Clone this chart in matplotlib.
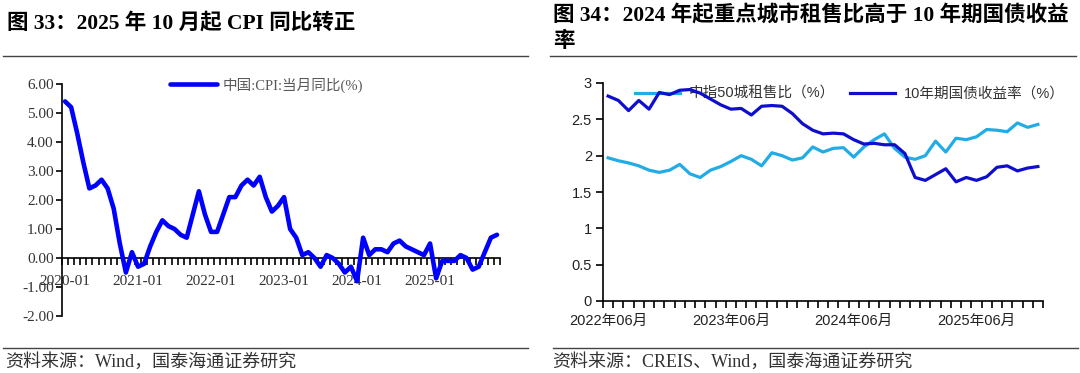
import numpy as np
import matplotlib
matplotlib.use("Agg")
import matplotlib.pyplot as plt
from matplotlib.lines import Line2D

# ---- data: left panel, China CPI yoy (%), 2020-01 .. 2025-12
cpi_years = ["2020-01", "2021-01", "2022-01", "2023-01", "2024-01", "2025-01"]
cpi = [5.4, 5.2, 4.3, 3.3, 2.4, 2.5, 2.7, 2.4, 1.7, 0.5, -0.5, 0.2,
       -0.3, -0.2, 0.4, 0.9, 1.3, 1.1, 1.0, 0.8, 0.7, 1.5, 2.3, 1.5,
       0.9, 0.9, 1.5, 2.1, 2.1, 2.5, 2.7, 2.5, 2.8, 2.1, 1.6, 1.8,
       2.1, 1.0, 0.7, 0.1, 0.2, 0.0, -0.3, 0.1, 0.0, -0.2, -0.5, -0.3,
       -0.8, 0.7, 0.1, 0.3, 0.3, 0.2, 0.5, 0.6, 0.4, 0.3, 0.2, 0.1,
       0.5, -0.7, -0.1, -0.1, -0.1, 0.1, 0.0, -0.4, -0.3, 0.2, 0.7, 0.8]

# ---- data: right panel, 2022-06 .. 2025-12
rent_labels = ["2022年06月", "2023年06月", "2024年06月", "2025年06月"]
rent_ratio = [1.97, 1.93, 1.90, 1.86, 1.80, 1.77, 1.80, 1.88, 1.75, 1.70,
              1.80, 1.85, 1.92, 2.00, 1.95, 1.86, 2.04, 2.00, 1.94, 1.97,
              2.12, 2.05, 2.10, 2.11, 1.98, 2.12, 2.22, 2.30, 2.10, 1.98,
              1.95, 2.00, 2.20, 2.05, 2.24, 2.22, 2.26, 2.36, 2.35, 2.33,
              2.45, 2.39, 2.43]
bond_10y = [2.82, 2.76, 2.62, 2.76, 2.64, 2.87, 2.84, 2.90, 2.91, 2.86,
            2.78, 2.70, 2.64, 2.65, 2.56, 2.68, 2.69, 2.68, 2.58, 2.44,
            2.35, 2.30, 2.31, 2.30, 2.22, 2.16, 2.17, 2.15, 2.15, 2.03,
            1.70, 1.66, 1.74, 1.82, 1.64, 1.70, 1.66, 1.71, 1.84, 1.86,
            1.79, 1.83, 1.85]

serif = ["Liberation Serif", "Noto Sans CJK SC"]
sans = ["Liberation Sans", "Noto Sans CJK SC"]

W, H = 1080, 373
fig = plt.figure(figsize=(W / 100, H / 100), dpi=100)
fig.patch.set_facecolor("white")


def fx(px):
    return px / W


def fy(py):
    return 1 - py / H


# ---------------- left chart ----------------
ax1 = fig.add_axes([fx(62), fy(316), fx(500 - 62), (316 - 84) / H])
x1 = np.arange(len(cpi))
ax1.plot(x1, cpi, color="#0000FF", lw=3.3, solid_joinstyle="round",
         solid_capstyle="round", label="中国:CPI:当月同比(%)", zorder=3)
ax1.set_xlim(-0.5, len(cpi) - 0.5)
ax1.set_ylim(-2, 6)
ax1.spines["top"].set_visible(False)
ax1.spines["right"].set_visible(False)
ax1.spines["bottom"].set_position(("data", 0))
for s in ["left", "bottom"]:
    ax1.spines[s].set_linewidth(1.2)
    ax1.spines[s].set_color("black")
ax1.set_yticks(np.arange(-2, 7, 1))
ax1.set_yticklabels([f"{v:.2f}" for v in np.arange(-2, 7, 1)])
ax1.set_xticks(np.arange(0, len(cpi), 12))
ax1.set_xticklabels(cpi_years)
ax1.set_xticks(np.arange(-0.5, len(cpi), 1), minor=True)
ax1.tick_params(axis="x", which="major", length=0, pad=12)
ax1.tick_params(axis="x", which="minor", length=5, width=1.2, direction="out")
ax1.tick_params(axis="y", length=4, width=1.2, direction="out", pad=2)
for lab in ax1.get_xticklabels() + ax1.get_yticklabels():
    lab.set_family(serif)
    lab.set_fontsize(11)
    lab.set_color("#333333")
leg1 = ax1.legend(loc="center left", bbox_to_anchor=(fx(170), fy(85)),
                  bbox_transform=fig.transFigure, frameon=False,
                  handlelength=3.2, handletextpad=0.4, borderpad=0,
                  borderaxespad=0, prop={"family": serif, "size": 10.5})
for t in leg1.get_texts():
    t.set_color("#595959")

# ---------------- right chart ----------------
ax2 = fig.add_axes([fx(603), fy(301), fx(1043 - 603), (301 - 83) / H])
x2 = np.arange(len(rent_ratio))
ax2.plot(x2, rent_ratio, color="#22ACE6", lw=2.3, solid_joinstyle="round",
         label="中指50城租售比（%）", zorder=3)
ax2.plot(x2, bond_10y, color="#0E0ECC", lw=2.3, solid_joinstyle="round",
         label="10年期国债收益率（%）", zorder=3)
ax2.set_xlim(-0.5, len(rent_ratio) - 0.5)
ax2.set_ylim(0, 3)
ax2.spines["top"].set_visible(False)
ax2.spines["right"].set_visible(False)
for s in ["left", "bottom"]:
    ax2.spines[s].set_linewidth(1.2)
    ax2.spines[s].set_color("black")
yt = np.arange(0, 3.01, 0.5)
ax2.set_yticks(yt)
ax2.set_yticklabels([f"{v:g}" for v in yt])
ax2.set_xticks(np.arange(0, len(rent_ratio), 12))
ax2.set_xticklabels(rent_labels)
ax2.set_xticks(np.arange(-0.5, len(rent_ratio), 1), minor=True)
ax2.tick_params(axis="x", which="major", length=0, pad=9)
ax2.tick_params(axis="x", which="minor", length=5, width=1.2, direction="out")
ax2.tick_params(axis="y", length=5, width=1.2, direction="out", pad=3)
for lab in ax2.get_xticklabels() + ax2.get_yticklabels():
    lab.set_family(sans)
    lab.set_fontsize(10.5)
    lab.set_color("#222222")
leg2 = ax2.legend(loc="center left", bbox_to_anchor=(fx(635), fy(94)),
                  bbox_transform=fig.transFigure, frameon=False, ncol=2,
                  handlelength=3.1, handletextpad=0.6, columnspacing=1.0,
                  borderpad=0, borderaxespad=0,
                  prop={"family": sans, "size": 10.5})
leg2.set_zorder(1)
for t in leg2.get_texts():
    t.set_color("#333333")

# ---------------- titles, rules, sources ----------------
fig.text(fx(7), fy(23), "图 33：2025 年 10 月起 CPI 同比转正", family=serif,
         fontsize=15.5, fontweight="bold", va="center", ha="left")
fig.text(fx(553), fy(16), "图 34：2024 年起重点城市租售比高于 10 年期国债收益",
         family=serif, fontsize=15.5, fontweight="bold", va="center", ha="left")
fig.text(fx(553), fy(42), "率", family=serif, fontsize=15.5,
         fontweight="bold", va="center", ha="left")

for (xa, xb, yy) in [(3, 528, 56), (550, 1076, 56), (3, 528, 348), (553, 1078, 348)]:
    fig.add_artist(Line2D([fx(xa), fx(xb)], [fy(yy), fy(yy)],
                          transform=fig.transFigure, color="#444444", lw=1.0))

fig.text(fx(5), fy(362), "资料来源：Wind，国泰海通证券研究", family=serif,
         fontsize=13, va="center", ha="left", color="#333333")
fig.text(fx(552), fy(362), "资料来源：CREIS、Wind，国泰海通证券研究", family=serif,
         fontsize=13, va="center", ha="left", color="#333333")

fig.savefig("out.png", dpi=100, facecolor="white")
